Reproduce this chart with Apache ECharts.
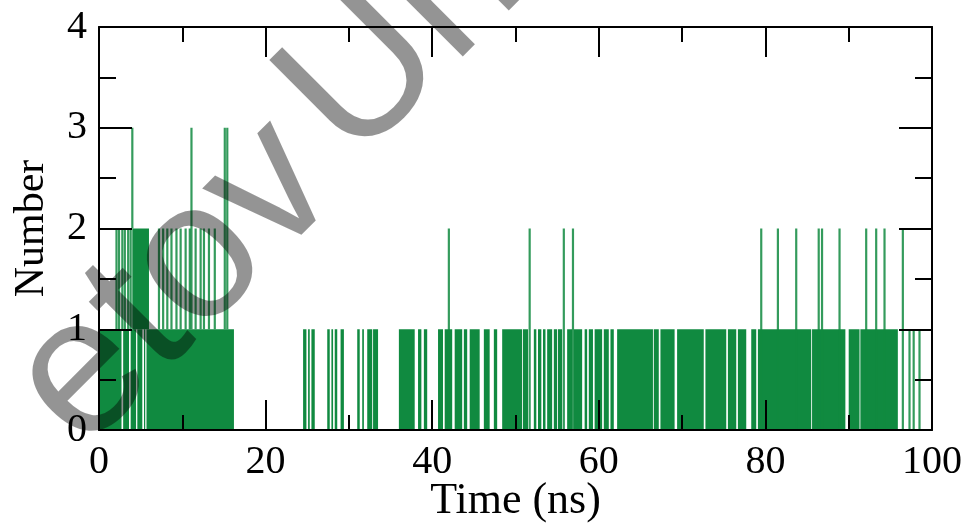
<!DOCTYPE html>
<html>
<head>
<meta charset="utf-8">
<script src="https://cdn.jsdelivr.net/npm/echarts@6/dist/echarts.min.js"></script>
<style>
  html, body { margin: 0; padding: 0; background: #fff; }
  #chart { width: 969px; height: 525px; }
</style>
</head>
<body>
<div id="chart"></div>
<script>
// Hydrogen-bond count over a 100 ns trajectory.
// Intervals where the count flickers rapidly between two levels
// appear as solid bands; single excursions appear as thin lines.

// time intervals (ns) of rapid 0 <-> 1 switching
const band01Runs = [
  [0, 2.7], [2.9, 3.6], [3.8, 4.45], [4.6, 5.2], [5.4, 5.55], [5.7, 16.2],
  [24.5, 24.9], [25.1, 25.3], [25.5, 25.9],
  [27.4, 27.7], [27.9, 28.1], [28.3, 28.6], [29.0, 29.4],
  [31.0, 31.3], [31.6, 31.8], [32.2, 32.8], [32.9, 33.5],
  [36.0, 37.9], [38.3, 38.7], [39.0, 39.4],
  [40.7, 41.3], [41.5, 42.4], [42.7, 43.6], [43.8, 44.2], [44.5, 45.7],
  [46.2, 46.9], [47.4, 47.8], [48.4, 50.8], [50.9, 51.5],
  [52.2, 52.5], [52.7, 53.1], [53.3, 53.6], [53.8, 54.4], [54.6, 55.0],
  [55.1, 55.6], [56.2, 56.8], [57.0, 58.0], [58.3, 58.6], [58.8, 59.3],
  [59.5, 60.4], [60.6, 61.2], [61.4, 61.8], [62.2, 66.5], [66.6, 67.2],
  [67.4, 69.1], [69.4, 72.6], [72.8, 75.3], [75.5, 76.5], [76.7, 77.7],
  [78.3, 78.9], [79.1, 85.5], [85.6, 89.6], [90.0, 91.3], [91.4, 95.9]
];
// time intervals (ns) of rapid 1 <-> 2 switching
const band12Runs = [[4.0, 6.0]];
// single excursions: times (ns) of each jump, grouped by the levels spanned
const jumps01 = [97.3, 97.8, 98.5];
const jumps12 = [2.1, 2.4, 2.8, 3.1, 3.5, 3.8, 7.2, 7.7, 8.2, 8.7, 9.3, 9.8,
                 10.4, 10.9, 11.6, 12.2, 12.6, 13.2, 13.9];
const jumps02 = [42.0, 51.7, 55.8, 56.9, 79.5, 81.5, 83.7, 86.4, 86.8, 88.9,
                 92.1, 93.3, 94.3, 96.5];
const jumps13 = [11.1, 15.1, 15.4];
const jumps23 = [4.0];

const xTicks = { min: 0, max: 100, interval: 20 };
const yTicks = { min: 0, max: 4, interval: 1 };

// rows: [isLine, t0, t1, lo, hi]
const rows = [];
band01Runs.forEach(r => rows.push([0, r[0], r[1], 0, 1]));
band12Runs.forEach(r => rows.push([0, r[0], r[1], 1, 2]));
jumps01.forEach(t => rows.push([1, t, t, 0, 1]));
jumps12.forEach(t => rows.push([1, t, t, 1, 2]));
jumps02.forEach(t => rows.push([1, t, t, 0, 2]));
jumps13.forEach(t => rows.push([1, t, t, 1, 3]));
jumps23.forEach(t => rows.push([1, t, t, 2, 3]));

const GREEN = '#108a40';
const SERIF = '"Liberation Serif", "Times New Roman", serif';

function renderItem(params, api) {
  const isLine = api.value(0);
  const p0 = api.coord([api.value(1), api.value(4)]);
  const p1 = api.coord([api.value(2), api.value(3)]);
  let x = p0[0], w = p1[0] - p0[0];
  if (isLine) { x = p0[0] - 1.1; w = 2.2; }
  return {
    type: 'rect',
    shape: { x: x, y: p0[1], width: w, height: p1[1] - p0[1] },
    style: { fill: GREEN, opacity: isLine ? 0.85 : 1 }
  };
}

const axisLine = { show: true, onZero: false, lineStyle: { color: '#000', width: 2 } };
function xAxis(pos, labels) {
  return Object.assign({
    type: 'value', position: pos, gridIndex: 0, z: 10,
    axisLine: axisLine,
    axisTick: { show: true, inside: true, length: 30, lineStyle: { color: '#000', width: 2 } },
    minorTick: { show: true, splitNumber: 2, length: 15, lineStyle: { color: '#000', width: 2 } },
    splitLine: { show: false }, minorSplitLine: { show: false },
    axisLabel: { show: labels, color: '#000', fontFamily: SERIF, fontSize: 40, margin: 12,
                 showMinLabel: true, showMaxLabel: true },
    name: labels ? 'Time (ns)' : '', nameLocation: 'middle', nameGap: 49,
    nameMoveOverlap: false,
    nameTextStyle: { color: '#000', fontFamily: SERIF, fontSize: 44 }
  }, xTicks);
}
function yAxis(pos, labels) {
  return Object.assign({
    type: 'value', position: pos, gridIndex: 0, z: 10,
    axisLine: axisLine,
    axisTick: { show: true, inside: true, length: 33, lineStyle: { color: '#000', width: 2 } },
    minorTick: { show: true, splitNumber: 2, length: 17, lineStyle: { color: '#000', width: 2 } },
    splitLine: { show: false }, minorSplitLine: { show: false },
    axisLabel: { show: labels, color: '#000', fontFamily: SERIF, fontSize: 40, margin: 12,
                 showMinLabel: true, showMaxLabel: true },
    name: labels ? 'Number' : '', nameLocation: 'middle', nameGap: 46,
    nameTextStyle: { color: '#000', fontFamily: SERIF, fontSize: 42 }
  }, yTicks);
}

// diagonal watermark lettering
const markFont = '195px "Liberation Sans", Arial, sans-serif';
const markAngle = 45 * Math.PI / 180;
function markText(text, x, y) {
  return {
    type: 'text', x: x, y: y, rotation: markAngle, z: 100, silent: true,
    style: {
      text: text, font: markFont, fill: 'rgba(0,0,0,0.42)',
      textAlign: 'center', textVerticalAlign: 'middle',
      align: 'center', verticalAlign: 'middle'
    }
  };
}

const chart = echarts.init(document.getElementById('chart'), null, { renderer: 'canvas' });
chart.setOption({
  animation: false,
  backgroundColor: '#fff',
  grid: { left: 99, right: 37, top: 27, bottom: 95, containLabel: false, outerBoundsMode: 'none' },
  xAxis: [xAxis('bottom', true), xAxis('top', false)],
  yAxis: [yAxis('left', true), yAxis('right', false)],
  series: [{
    type: 'custom',
    xAxisIndex: 0, yAxisIndex: 0,
    renderItem: renderItem,
    encode: { x: [1, 2], y: [3, 4] },
    data: rows,
    clip: true,
    z: 2
  }],
  graphic: [markText('etov', 175, 285), markText('Uni', 419, 24)]
});
</script>
</body>
</html>
